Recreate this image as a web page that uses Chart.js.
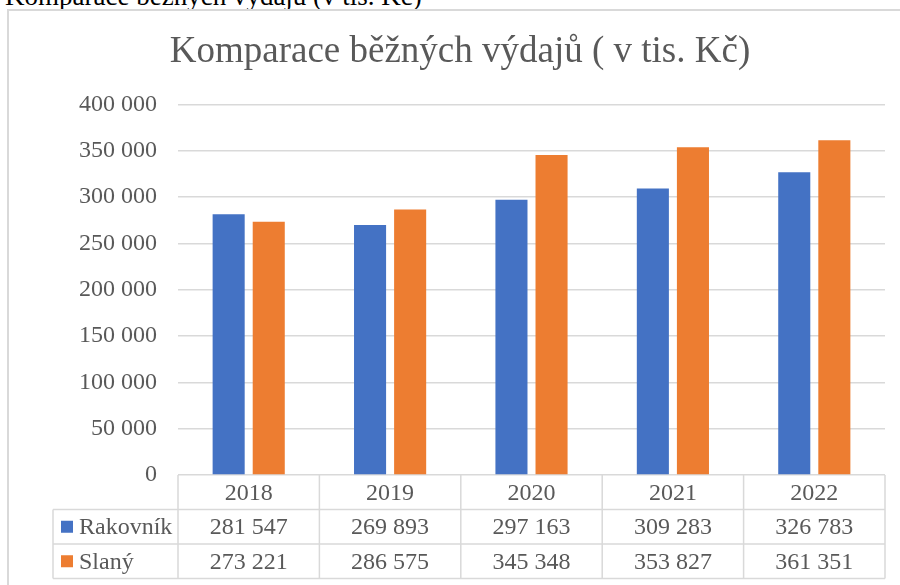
<!DOCTYPE html>
<html>
<head>
<meta charset="utf-8">
<script src="https://cdn.jsdelivr.net/npm/chart.js@4.4.1/dist/chart.umd.min.js"></script>
<style>
html, body { margin: 0; padding: 0; background: #fff; overflow: hidden; width: 900px; height: 585px; }
#frame { position: absolute; left: 7px; top: 9px; width: 1000px; height: 1000px; border-left: 2px solid #d9d9d9; border-top: 2px solid #d9d9d9; }
#caption { position: absolute; left: 5px; top: -17px; font: 27px/27px "Liberation Serif", serif; color: #000; white-space: nowrap; }
canvas { position: absolute; left: 0; top: 0; }
</style>
</head>
<body>
<div id="caption">Komparace běžných výdajů (v tis. Kč)</div>
<div id="frame"></div>
<canvas id="chart" width="900" height="585"></canvas>
<script>
var years = ["2018", "2019", "2020", "2021", "2022"];
var seriesNames = ["Rakovník", "Slaný"];
var rakovnik = [281547, 269893, 297163, 309283, 326783];
var slany = [273221, 286575, 345348, 353827, 361351];
var yMax = 400000;
var yStep = 50000;

var colors = ["#4472c4", "#ed7d31"];
var textColor = "#595959";
var lineColor = "#d9d9d9";
var serif = "'Liberation Serif', 'Times New Roman', serif";

function fmt(v) {
  return String(v).replace(/\B(?=(\d{3})+(?!\d))/g, " ");
}

// data table under the plot: years row + one row per series, columns from the x scale
var dataTable = {
  id: "dataTable",
  afterDraw: function (chart) {
    var ctx = chart.ctx;
    var area = chart.chartArea;
    var xs = chart.scales.x;
    var rowH = 34.5;
    var top = area.bottom;
    var legendLeft = 53;
    var colW = area.width / years.length;
    var rows = [rakovnik, slany];
    var i, r, y;

    ctx.save();
    ctx.strokeStyle = lineColor;
    ctx.lineWidth = 1.5;
    ctx.beginPath();
    for (r = 1; r <= 3; r++) {
      y = top + r * rowH;
      ctx.moveTo(legendLeft, y);
      ctx.lineTo(area.right, y);
    }
    ctx.moveTo(legendLeft, top + rowH);
    ctx.lineTo(legendLeft, top + 3 * rowH);
    for (i = 0; i <= years.length; i++) {
      var x = area.left + i * colW;
      ctx.moveTo(x, top);
      ctx.lineTo(x, top + 3 * rowH);
    }
    ctx.stroke();

    ctx.font = "24px " + serif;
    ctx.fillStyle = textColor;
    ctx.textBaseline = "middle";
    ctx.textAlign = "center";
    for (i = 0; i < years.length; i++) {
      ctx.fillText(years[i], xs.getPixelForValue(i), top + 0.5 * rowH + 1);
    }
    for (r = 0; r < rows.length; r++) {
      y = top + (r + 1.5) * rowH + 1;
      ctx.textAlign = "center";
      for (i = 0; i < years.length; i++) {
        ctx.fillText(fmt(rows[r][i]), xs.getPixelForValue(i), y);
      }
      ctx.fillStyle = colors[r];
      ctx.fillRect(61, y - 7, 12, 12);
      ctx.fillStyle = textColor;
      ctx.textAlign = "left";
      ctx.fillText(seriesNames[r], 79, y);
    }
    ctx.restore();
  }
};

new Chart(document.getElementById("chart").getContext("2d"), {
  type: "bar",
  data: {
    labels: years,
    datasets: [
      { label: seriesNames[0], data: rakovnik, backgroundColor: colors[0] },
      { label: seriesNames[1], data: slany, backgroundColor: colors[1] }
    ]
  },
  options: {
    responsive: false,
    animation: false,
    categoryPercentage: 0.567,
    barPercentage: 0.8,
    layout: { padding: { left: 35, right: 15, top: 0, bottom: 110 } },
    plugins: {
      legend: { display: false },
      tooltip: { enabled: false },
      title: {
        display: true,
        text: "Komparace běžných výdajů ( v tis. Kč)",
        color: textColor,
        font: { family: serif, size: 37, weight: "normal" },
        padding: { top: 30, bottom: 30 }
      }
    },
    scales: {
      x: {
        display: false
      },
      y: {
        min: 0,
        max: yMax,
        ticks: {
          stepSize: yStep,
          color: textColor,
          font: { family: serif, size: 24 },
          padding: 21,
          callback: function (v) { return fmt(v); }
        },
        grid: { color: lineColor, lineWidth: 1.5, drawTicks: false },
        border: { display: false },
        afterFit: function (s) { s.width = 143; }
      }
    }
  },
  plugins: [dataTable]
});
</script>
</body>
</html>
